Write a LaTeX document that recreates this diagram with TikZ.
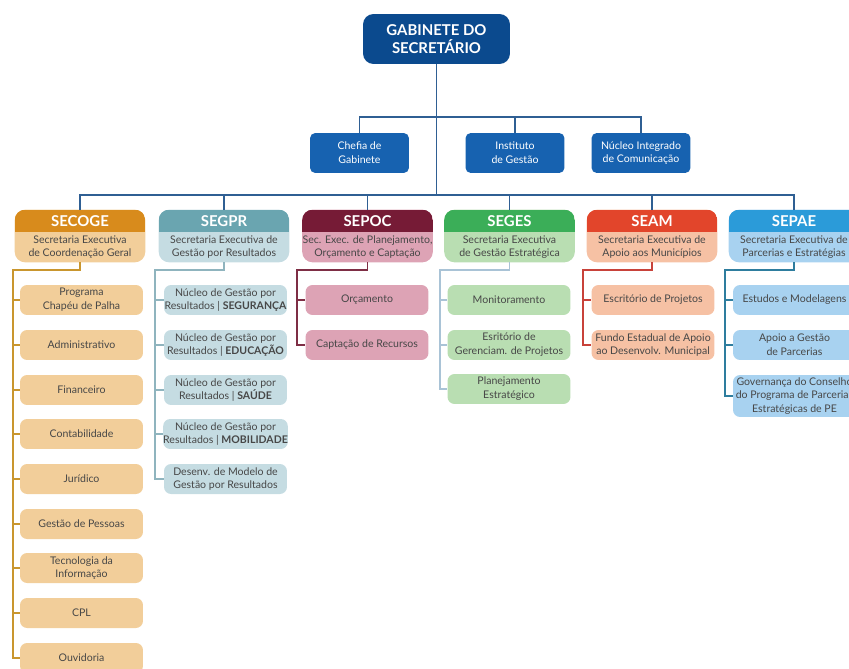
\documentclass[tikz,border=0pt]{standalone}
\usepackage{fontspec}
\setmainfont{Lato}
\usetikzlibrary{backgrounds}

\definecolor{gabblue}{HTML}{0B4A8E}
\definecolor{topblue}{HTML}{1762B0}
\definecolor{busblue}{HTML}{2F5F93}
\definecolor{Hsecoge}{HTML}{D88B1C}\definecolor{Bsecoge}{HTML}{F2CE9A}\definecolor{Lsecoge}{HTML}{C9962E}
\definecolor{Hsegpr}{HTML}{6AA5B0}\definecolor{Bsegpr}{HTML}{C5DCE2}\definecolor{Lsegpr}{HTML}{8FB4BE}
\definecolor{Hsepoc}{HTML}{761B36}\definecolor{Bsepoc}{HTML}{DDA3B5}\definecolor{Lsepoc}{HTML}{7E2E45}
\definecolor{Hseges}{HTML}{3BAE58}\definecolor{Bseges}{HTML}{B9DEB2}\definecolor{Lseges}{HTML}{A9C3D6}
\definecolor{Hseam}{HTML}{E2452B}\definecolor{Bseam}{HTML}{F6C1A4}\definecolor{Lseam}{HTML}{C8423A}
\definecolor{Hsepae}{HTML}{2B9BD9}\definecolor{Bsepae}{HTML}{A8D2F0}\definecolor{Lsepae}{HTML}{2E7D9E}

\tikzset{
	gab/.style={fill=gabblue, text=white, rounded corners=6pt, minimum width=2.94cm, minimum height=1cm, inner sep=0pt, align=center, font=\fontsize{8.5}{10.5}\selectfont\bfseries},
	topbox/.style={fill=topblue, text=white, rounded corners=3pt, minimum width=1.98cm, minimum height=0.8cm, inner sep=0pt, align=center, font=\fontsize{6}{7.9}\selectfont},
	sechead/.style={minimum width=2.6cm, minimum height=0.44cm, inner sep=0pt, text=white, font=\fontsize{8.5}{9}\selectfont\bfseries},
	secbody/.style={minimum width=2.6cm, minimum height=0.6cm, inner sep=0pt, align=center, text=black!72, font=\fontsize{6}{7.6}\selectfont},
	sub/.style={fill=#1, rounded corners=4pt, minimum width=2.46cm, minimum height=0.6cm, inner sep=0pt, align=center, text=black!72, font=\fontsize{6}{7.9}\selectfont},
	link/.style={line width=1pt, draw=#1}
}

\begin{document}
\begin{tikzpicture}[x=0.02cm, y=-0.02cm]
	\useasboundingbox (0,0) rectangle (849,669);
	\clip (0,0) rectangle (849,669);
	% top
	\node[gab] (gab) at (436.5,39) {GABINETE DO\\SECRETÁRIO};
	\node[topbox] (chefia) at (359.5,153) {Chefia de\\Gabinete};
	\node[topbox] (instituto) at (515,153) {Instituto\\de Gestão};
	\node[topbox] (nucleo) at (641,153) {Núcleo Integrado\\de Comunicação};
	\coordinate (topbus) at (0,117);
	\coordinate (bus) at (0,195);
	% secretarias
	\node[sechead] (secoge-h) at (80,221) {SECOGE};
	\node[secbody] (secoge) at (80,247) {Secretaria Executiva\\de Coordenação Geral};
	\node[sechead] (segpr-h) at (224,221) {SEGPR};
	\node[secbody] (segpr) at (224,247) {Secretaria Executiva de\\Gestão por Resultados};
	\node[sechead] (sepoc-h) at (367.5,221) {SEPOC};
	\node[secbody] (sepoc) at (367.5,247) {Sec. Exec. de Planejamento,\\Orçamento e Captação};
	\node[sechead] (seges-h) at (509.5,221) {SEGES};
	\node[secbody] (seges) at (509.5,247) {Secretaria Executiva\\de Gestão Estratégica};
	\node[sechead] (seam-h) at (652,221) {SEAM};
	\node[secbody] (seam) at (652,247) {Secretaria Executiva de\\Apoio aos Municípios};
	\node[sechead] (sepae-h) at (794,221) {SEPAE};
	\node[secbody] (sepae) at (794,247) {Secretaria Executiva de\\Parcerias e Estratégias};
	\begin{scope}[on background layer]
		\foreach \s in {secoge,segpr,sepoc,seges,seam,sepae}{
			\fill[B\s, rounded corners=6pt] (\s-h.north west) rectangle (\s.south east);
			\begin{scope}
				\clip[rounded corners=6pt] (\s-h.north west) rectangle (\s.south east);
				\fill[H\s] (\s-h.north west) rectangle (\s-h.south east);
			\end{scope}
		}
	\end{scope}
	% SECOGE
	\node[sub=Bsecoge] (secoge-1) at (81.5,300) {Programa\\Chapéu de Palha};
	\node[sub=Bsecoge] (secoge-2) at (81.5,345) {Administrativo};
	\node[sub=Bsecoge] (secoge-3) at (81.5,390) {Financeiro};
	\node[sub=Bsecoge] (secoge-4) at (81.5,434) {Contabilidade};
	\node[sub=Bsecoge] (secoge-5) at (81.5,479) {Jurídico};
	\node[sub=Bsecoge] (secoge-6) at (81.5,524) {Gestão de Pessoas};
	\node[sub=Bsecoge] (secoge-7) at (81.5,568) {Tecnologia da\\Informação};
	\node[sub=Bsecoge] (secoge-8) at (81.5,613) {CPL};
	\node[sub=Bsecoge] (secoge-9) at (81.5,658) {Ouvidoria};
	% SEGPR
	\node[sub=Bsegpr] (segpr-1) at (225.5,300) {Núcleo de Gestão por\\Resultados | \textbf{SEGURANÇA}};
	\node[sub=Bsegpr] (segpr-2) at (225.5,345) {Núcleo de Gestão por\\Resultados | \textbf{EDUCAÇÃO}};
	\node[sub=Bsegpr] (segpr-3) at (225.5,390) {Núcleo de Gestão por\\Resultados | \textbf{SAÚDE}};
	\node[sub=Bsegpr] (segpr-4) at (225.5,434) {Núcleo de Gestão por\\Resultados | \textbf{MOBILIDADE}};
	\node[sub=Bsegpr] (segpr-5) at (225.5,479) {Desenv. de Modelo de\\Gestão por Resultados};
	% SEPOC
	\node[sub=Bsepoc] (sepoc-1) at (367,300) {Orçamento};
	\node[sub=Bsepoc] (sepoc-2) at (367,345) {Captação de Recursos};
	% SEGES
	\node[sub=Bseges] (seges-1) at (509,300) {Monitoramento};
	\node[sub=Bseges] (seges-2) at (509,345) {Esritório de\\Gerenciam. de Projetos};
	\node[sub=Bseges] (seges-3) at (509,389) {Planejamento\\Estratégico};
	% SEAM
	\node[sub=Bseam] (seam-1) at (653,300) {Escritório de Projetos};
	\node[sub=Bseam] (seam-2) at (653,345) {Fundo Estadual de Apoio\\ao Desenvolv. Municipal};
	% SEPAE
	\node[sub=Bsepae] (sepae-1) at (794.5,300) {Estudos e Modelagens};
	\node[sub=Bsepae] (sepae-2) at (794.5,345) {Apoio a Gestão\\de Parcerias};
	\node[sub=Bsepae, minimum height=0.84cm] (sepae-3) at (794.5,396) {Governança do Conselho\\do Programa de Parcerias\\Estratégicas de PE};
	% connectors
	\draw[link=busblue] (gab.south) -- (gab.south |- bus);
	\foreach \t in {chefia,instituto,nucleo}
		\draw[link=busblue] (gab.south |- topbus) -| (\t.north);
	\foreach \s in {secoge,segpr,sepoc,seges,seam,sepae}
		\draw[link=busblue] (gab.south |- bus) -| (\s-h.north);
	\coordinate (secoge-e) at (13,270);
	\coordinate (segpr-e) at (155,270);
	\coordinate (sepoc-e) at (297,270);
	\coordinate (seges-e) at (440,270);
	\coordinate (seam-e) at (583,270);
	\coordinate (sepae-e) at (725,270);
	\foreach \s/\n in {secoge/9,segpr/5,sepoc/2,seges/3,seam/2,sepae/3}
		\foreach \i in {1,...,\n}
			\draw[link=L\s] (\s.south) |- (\s-e) |- (\s-\i.west);
\end{tikzpicture}
\end{document}
